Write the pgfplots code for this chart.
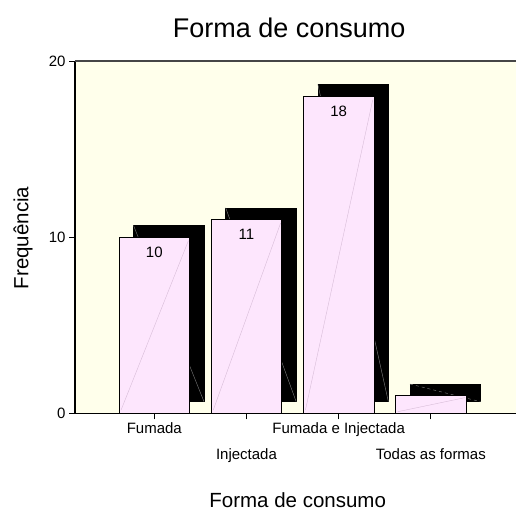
\documentclass[border=0pt]{standalone}
\usepackage{fontspec}
\setmainfont{Liberation Sans}
\usepackage{pgfplots}
\usepackage{pgfplotstable}
\pgfplotsset{compat=1.18}
\definecolor{bgyellow}{RGB}{255,255,235}
\definecolor{barpink}{RGB}{253,230,253}
\definecolor{diagpink}{RGB}{215,188,215}
\definecolor{topline}{RGB}{70,70,70}
\pgfplotstableread{
x v lab
0 10 10
1 11 11
2 18 18
3 1 {}
}\freqtable
\begin{document}
\begin{tikzpicture}
\useasboundingbox (0,0) rectangle (516bp,511bp);
\begin{axis}[
  at={(75bp,97.5bp)}, anchor=south west,
  scale only axis, width=441bp, height=352.5bp,
  xmin=-0.860, xmax=3.924, ymin=0, ymax=20,
  axis background/.style={fill=bgyellow},
  axis x line=bottom, axis y line=left,
  axis line style={-, black, line width=1.3bp},
  tick align=outside, major tick length=6bp,
  tick style={black, line width=0.8bp},
  ytick={0,10,20},
  xtick={0,2}, xticklabels={Fumada, Fumada e Injectada},
  extra x ticks={1,3}, extra x tick labels={Injectada, Todas as formas},
  extra x tick style={grid=none, xticklabel style={yshift=-26bp}},
  tick label style={font=\fontsize{15bp}{18bp}\selectfont},
  /pgf/number format/assume math mode=true,
  clip=false,
]
% shadows
\addplot[fill=black, draw=black] coordinates {(-0.2255,0.67) (0.5395,0.67) (0.5395,10.67) (-0.2255,10.67)} -- cycle;
\addplot[fill=black, draw=black] coordinates {(0.7745,0.67) (1.5395,0.67) (1.5395,11.67) (0.7745,11.67)} -- cycle;
\addplot[fill=black, draw=black] coordinates {(1.7745,0.67) (2.5395,0.67) (2.5395,18.67) (1.7745,18.67)} -- cycle;
\addplot[fill=black, draw=black] coordinates {(2.7745,0.67) (3.5395,0.67) (3.5395,1.67) (2.7745,1.67)} -- cycle;
% shadow diagonals
\addplot[gray, line width=0.4bp] coordinates {(-0.2255,10.67) (0.5395,0.67)};
\addplot[gray, line width=0.4bp] coordinates {(0.7745,11.67) (1.5395,0.67)};
\addplot[gray, line width=0.4bp] coordinates {(1.7745,18.67) (2.5395,0.67)};
\addplot[gray, line width=0.4bp, dashed] coordinates {(2.7745,1.67) (3.5395,0.67)};
% bars
\addplot[ybar, bar width=0.765, fill=barpink, draw=black, line width=0.8bp,
  point meta=explicit symbolic, nodes near coords,
  every node near coord/.append style={anchor=north, inner sep=0pt, yshift=-9bp,
     font=\fontsize{15bp}{18bp}\selectfont, text=black}]
  table[x=x, y=v, meta=lab] {\freqtable};
% bar diagonals
\addplot[diagpink, line width=0.4bp] coordinates {(-0.36,0.2) (0.37,9.8)};
\addplot[diagpink, line width=0.4bp] coordinates {(0.64,0.2) (1.37,10.8)};
\addplot[diagpink, line width=0.4bp] coordinates {(1.64,0.2) (2.37,17.8)};
\addplot[diagpink, line width=0.4bp] coordinates {(2.64,0.1) (3.37,0.9)};
\draw[topline, line width=1.3bp] (rel axis cs:0,1) -- (rel axis cs:1,1);
\end{axis}
\node[anchor=base, font=\fontsize{27bp}{32bp}\selectfont] at (289.2bp,473.3bp) {Forma de consumo};
\node[anchor=base, font=\fontsize{20.5bp}{24bp}\selectfont] at (297.7bp,4bp) {Forma de consumo};
\node[rotate=90, font=\fontsize{20.5bp}{24bp}\selectfont] at (23bp,273bp) {Frequência};
\end{tikzpicture}
\end{document}
